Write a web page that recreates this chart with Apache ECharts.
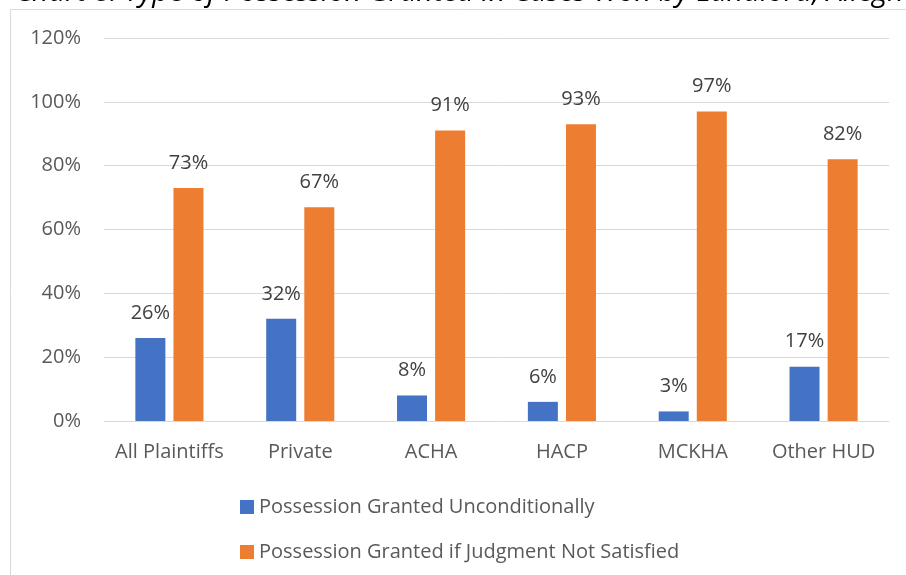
<!DOCTYPE html>
<html>
<head>
<meta charset="utf-8">
<script src="https://cdn.jsdelivr.net/npm/echarts@6/dist/echarts.min.js"></script>
<style>
  html, body { margin: 0; padding: 0; background: #fff; }
  #chart { width: 906px; height: 575px; }
</style>
</head>
<body>
<div id="chart"></div>
<script>
const categories = ['All Plaintiffs', 'Private', 'ACHA', 'HACP', 'MCKHA', 'Other HUD'];
const seriesNames = ['Possession Granted Unconditionally', 'Possession Granted if Judgment Not Satisfied'];
const unconditional = [26, 32, 8, 6, 3, 17];
const ifNotSatisfied = [73, 67, 91, 93, 97, 82];
const yTicks = [0, 20, 40, 60, 80, 100, 120];

const font = '"Open Sans", Lato, sans-serif';
const myChart = echarts.init(document.getElementById('chart'));

const option = {
  animation: false,
  textStyle: { fontFamily: font },
  graphic: [
    {
      type: 'rect',
      shape: { x: 10.5, y: 9.5, width: 1000, height: 1000 },
      style: { fill: 'none', stroke: '#d9d9d9', lineWidth: 1 },
      z: -1
    },
    {
      // title is cut off by the top edge of the picture
      type: 'text',
      x: 15,
      y: 7.5,
      style: {
        text: 'Chart 8: Type of Possession Granted in Cases Won by Landlord, Allegheny County',
        font: 'italic 29px ' + font,
        fill: '#000',
        verticalAlign: 'bottom'
      }
    }
  ],
  grid: {
    left: 104,
    right: 17,
    top: 38,
    bottom: 154,
    containLabel: false
  },
  legend: {
    orient: 'vertical',
    left: 235,
    top: 492,
    itemWidth: 14,
    itemHeight: 14,
    itemGap: 25,
    icon: 'rect',
    textStyle: { fontSize: 20, color: '#595959', fontFamily: font },
    data: seriesNames
  },
  xAxis: {
    type: 'category',
    data: categories,
    axisTick: { show: false },
    axisLine: { lineStyle: { color: '#d9d9d9', width: 1 } },
    axisLabel: { fontSize: 20, color: '#595959', margin: 21, interval: 0 }
  },
  yAxis: {
    type: 'value',
    min: yTicks[0],
    max: yTicks[yTicks.length - 1],
    interval: 20,
    axisLine: { show: false },
    axisTick: { show: false },
    splitLine: { lineStyle: { color: '#d9d9d9', width: 1 } },
    axisLabel: { fontSize: 20, color: '#595959', margin: 23, formatter: '{value}%' }
  },
  series: [
    {
      name: seriesNames[0],
      type: 'bar',
      data: unconditional,
      barWidth: 30,
      barGap: '27%',
      itemStyle: { color: '#4472c4' },
      label: { show: true, position: 'top', fontSize: 20, color: '#404040', formatter: '{c}%', distance: 15 }
    },
    {
      name: seriesNames[1],
      type: 'bar',
      data: ifNotSatisfied,
      barWidth: 30,
      itemStyle: { color: '#ed7d31' },
      label: { show: true, position: 'top', fontSize: 20, color: '#404040', formatter: '{c}%', distance: 15 }
    }
  ]
};

myChart.setOption(option);
</script>
</body>
</html>
